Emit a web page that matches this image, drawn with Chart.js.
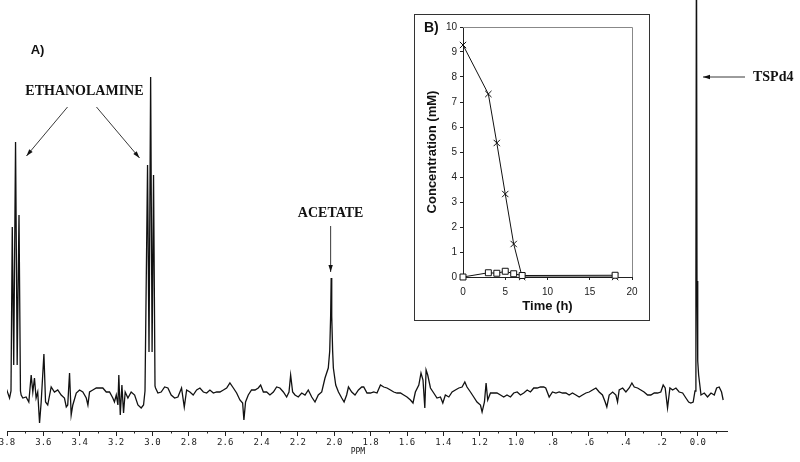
<!DOCTYPE html>
<html>
<head>
<meta charset="utf-8">
<script src="https://cdn.jsdelivr.net/npm/chart.js@4/dist/chart.umd.min.js"></script>
<style>
  html, body { margin: 0; padding: 0; background: #fff; }
  body { width: 800px; height: 462px; position: relative; overflow: hidden; }
  #spec { position: absolute; left: -23px; top: 0; }
  #inset { position: absolute; left: 414px; top: 14px; width: 234px; height: 305px; border: 1px solid #333; background: #fff; }
  #insetCanvas { position: absolute; left: 0; top: 0; }
  #tagB { position: absolute; left: 9px; top: 4px; font: bold 14px "Liberation Sans", Arial, sans-serif; color: #111; }
</style>
</head>
<body>
<canvas id="spec" width="830" height="462"></canvas>
<div id="inset">
  <canvas id="insetCanvas" width="234" height="305"></canvas>
  <div id="tagB">B)</div>
</div>
<script>
// ============================
// SPECTRUM (A) - chemical shift (ppm) / intensity (arbitrary units)
// ============================
const shifts = [
  3.805, 3.786, 3.778, 3.771, 3.763, 3.753, 3.744, 3.734, 3.726, 3.722, 3.713, 3.695, 3.680, 3.667, 3.658,
  3.649, 3.640, 3.631, 3.621, 3.612, 3.597, 3.588, 3.576, 3.557, 3.539, 3.521, 3.502, 3.484, 3.474, 3.466,
  3.456, 3.447, 3.438, 3.419, 3.401, 3.383, 3.364, 3.355, 3.346, 3.328, 3.309, 3.291, 3.273, 3.254, 3.236,
  3.218, 3.209, 3.199, 3.190, 3.185, 3.177, 3.168, 3.159, 3.150, 3.135, 3.117, 3.098, 3.080, 3.062, 3.049,
  3.041, 3.027, 3.019, 3.010, 3.002, 2.994, 2.986, 2.983, 2.970, 2.952, 2.933, 2.915, 2.897, 2.878, 2.860,
  2.840, 2.825, 2.812, 2.794, 2.776, 2.757, 2.739, 2.720, 2.702, 2.684, 2.665, 2.647, 2.629, 2.610, 2.592,
  2.574, 2.555, 2.537, 2.519, 2.504, 2.497, 2.488, 2.473, 2.455, 2.436, 2.418, 2.405, 2.390, 2.372, 2.354,
  2.335, 2.317, 2.299, 2.280, 2.262, 2.249, 2.240, 2.229, 2.216, 2.198, 2.179, 2.161, 2.143, 2.124, 2.106,
  2.088, 2.069, 2.051, 2.033, 2.025, 2.020, 2.017, 2.014, 2.009, 2.005, 1.992, 1.977, 1.959, 1.946, 1.932,
  1.922, 1.904, 1.886, 1.867, 1.849, 1.838, 1.820, 1.801, 1.783, 1.765, 1.746, 1.728, 1.710, 1.691, 1.673,
  1.655, 1.636, 1.618, 1.600, 1.581, 1.567, 1.554, 1.535, 1.523, 1.512, 1.502, 1.495, 1.486, 1.471, 1.453,
  1.435, 1.416, 1.403, 1.389, 1.370, 1.352, 1.334, 1.315, 1.297, 1.282, 1.270, 1.251, 1.233, 1.215, 1.196,
  1.187, 1.174, 1.165, 1.156, 1.141, 1.123, 1.105, 1.086, 1.068, 1.050, 1.031, 1.013, 0.994, 0.976, 0.958,
  0.939, 0.921, 0.903, 0.884, 0.866, 0.848, 0.837, 0.818, 0.800, 0.781, 0.763, 0.745, 0.726, 0.708, 0.690,
  0.671, 0.653, 0.635, 0.616, 0.598, 0.580, 0.561, 0.543, 0.525, 0.510, 0.501, 0.488, 0.469, 0.451, 0.442,
  0.433, 0.414, 0.396, 0.378, 0.363, 0.350, 0.332, 0.314, 0.296, 0.277, 0.259, 0.240, 0.222, 0.204, 0.191,
  0.180, 0.167, 0.154, 0.139, 0.121, 0.103, 0.084, 0.066, 0.051, 0.039, 0.026, 0.016, 0.011, 0.008, 0.005,
  0.001, -0.004, -0.017, -0.035, -0.053, -0.072, -0.090, -0.103, -0.117, -0.130, -0.139
];
const intensity = [
  43, 33, 40, 204, 66, 289, 66, 216, 40, 36, 33, 34, 29, 56, 39,
  53, 33, 39, 8, 29, 77, 29, 26, 44, 39, 41, 36, 33, 24, 26,
  58, 16, 26, 38, 41, 39, 33, 26, 39, 41, 43, 43, 43, 39, 39,
  33, 29, 36, 26, 56, 16, 46, 18, 39, 33, 39, 36, 26, 23, 26,
  40, 266, 79, 354, 79, 256, 45, 43, 38, 39, 44, 43, 36, 33, 34,
  43, 24, 41, 39, 36, 41, 43, 39, 38, 41, 38, 39, 39, 41, 43,
  48, 43, 38, 31, 28, 11, 29, 36, 41, 41, 43, 46, 39, 39, 36,
  39, 44, 43, 39, 34, 39, 56, 39, 36, 34, 38, 36, 41, 34, 29,
  36, 39, 53, 63, 80, 115, 153, 115, 80, 63, 46, 39, 33, 29, 36,
  44, 39, 36, 41, 44, 44, 38, 38, 39, 38, 46, 44, 43, 41, 39,
  38, 38, 36, 34, 31, 28, 39, 46, 58, 51, 23, 61, 56, 43, 38,
  33, 34, 28, 36, 34, 39, 41, 43, 44, 49, 44, 39, 34, 29, 26,
  19, 29, 48, 31, 38, 38, 38, 36, 34, 36, 34, 38, 39, 36, 38,
  41, 39, 43, 43, 44, 44, 43, 34, 39, 38, 39, 38, 38, 36, 38,
  36, 34, 36, 38, 39, 41, 43, 39, 36, 29, 24, 36, 39, 36, 29,
  41, 43, 39, 43, 48, 44, 43, 41, 39, 36, 36, 38, 38, 39, 46,
  43, 23, 43, 41, 43, 39, 38, 33, 29, 28, 29, 40, 150, 520, 150,
  70, 56, 36, 38, 34, 38, 36, 43, 44, 39, 31
];

// ============================
// INSET (B) - concentrations over time
// ============================
const times = [0, 3, 4, 5, 6, 7, 18];
const ethanolamineMM = [9.28, 7.32, 5.36, 3.32, 1.32, 0, 0];
const acetateMM = [0, 0.17, 0.15, 0.23, 0.13, 0.06, 0.07];

// labels / arrows on the spectrum, in ppm / intensity units
const serif = 'bold 14px "Liberation Serif", "Times New Roman", serif';
const notes = [
  { text: 'A)', ppm: 3.632, y: 381, font: 'bold 13px "Liberation Sans", Arial, sans-serif', align: 'center' },
  { text: 'ETHANOLAMINE', ppm: 3.374, y: 340, font: serif, align: 'center' },
  { text: 'ACETATE', ppm: 2.020, y: 218, font: serif, align: 'center' },
  { text: 'TSPd4', ppm: -0.303, y: 354, font: serif, align: 'left' },
  { text: 'PPM', ppm: 1.87, y: -21, font: '8px "DejaVu Sans Mono", monospace', align: 'center' }
];
const arrows = [
  { from: [3.467, 324], to: [3.693, 275] },
  { from: [3.308, 324], to: [3.071, 273] },
  { from: [2.020, 205], to: [2.020, 159] },
  { from: [-0.259, 354], to: [-0.028, 354] }
];

Chart.defaults.font.family = '"Liberation Sans", Arial, sans-serif';

function isMajor(v) {
  return Math.abs(Math.round(v * 10)) % 2 === 0;
}
function ppmLabel(v) {
  if (!isMajor(v) || v < -0.01) return '';
  if (Math.abs(v) < 0.001) return '0.0';
  if (v < 1) return '.' + Math.round(v * 10);
  return v.toFixed(1);
}

// short minor ticks under the axis
const minorTicks = {
  id: 'minorTicks',
  afterDraw(chart) {
    const sc = chart.scales.x, ctx = chart.ctx;
    ctx.save();
    ctx.strokeStyle = '#222';
    ctx.lineWidth = 1;
    sc.ticks.forEach(t => {
      if (isMajor(t.value)) return;
      const px = Math.round(sc.getPixelForValue(t.value)) + 0.5;
      ctx.beginPath();
      ctx.moveTo(px, sc.top);
      ctx.lineTo(px, sc.top + 2.5);
      ctx.stroke();
    });
    ctx.restore();
  }
};

// text labels + arrows
const labelsPlugin = {
  id: 'labelsPlugin',
  afterDraw(chart) {
    const xs = chart.scales.x, ys = chart.scales.y, ctx = chart.ctx;
    ctx.save();
    ctx.fillStyle = '#111';
    ctx.textBaseline = 'middle';
    notes.forEach(n => {
      ctx.font = n.font;
      ctx.textAlign = n.align;
      ctx.fillText(n.text, xs.getPixelForValue(n.ppm), ys.getPixelForValue(n.y));
    });
    ctx.strokeStyle = '#222';
    ctx.lineWidth = 0.9;
    arrows.forEach(a => {
      const x1 = xs.getPixelForValue(a.from[0]), y1 = ys.getPixelForValue(a.from[1]);
      const x2 = xs.getPixelForValue(a.to[0]), y2 = ys.getPixelForValue(a.to[1]);
      const ang = Math.atan2(y2 - y1, x2 - x1);
      ctx.beginPath();
      ctx.moveTo(x1, y1);
      ctx.lineTo(x2, y2);
      ctx.stroke();
      ctx.beginPath();
      ctx.moveTo(x2, y2);
      ctx.lineTo(x2 - 7 * Math.cos(ang) + 2.2 * Math.sin(ang), y2 - 7 * Math.sin(ang) - 2.2 * Math.cos(ang));
      ctx.lineTo(x2 - 7 * Math.cos(ang) - 2.2 * Math.sin(ang), y2 - 7 * Math.sin(ang) + 2.2 * Math.cos(ang));
      ctx.closePath();
      ctx.fill();
    });
    ctx.restore();
  }
};

new Chart(document.getElementById('spec'), {
  type: 'line',
  data: {
    datasets: [{
      data: shifts.map((s, i) => ({ x: s, y: intensity[i] })),
      borderColor: '#111',
      borderWidth: 1.3,
      pointRadius: 0,
      tension: 0,
      fill: false
    }]
  },
  options: {
    responsive: false,
    animation: false,
    devicePixelRatio: 1,
    layout: { padding: { left: 30, right: 80, top: 0, bottom: 0 } },
    plugins: { legend: { display: false }, tooltip: { enabled: false } },
    scales: {
      x: {
        type: 'linear',
        reverse: true,
        min: -0.16,
        max: 3.8,
        border: { display: true, color: '#222', width: 1 },
        grid: {
          drawOnChartArea: false,
          tickLength: 5,
          tickColor: c => (c.tick && isMajor(c.tick.value)) ? '#222' : 'rgba(0,0,0,0)'
        },
        ticks: {
          stepSize: 0.1,
          includeBounds: false,
          autoSkip: false,
          maxRotation: 0,
          padding: 1,
          color: '#222',
          font: { family: '"DejaVu Sans Mono", monospace', size: 9 },
          callback: v => ppmLabel(v)
        },
        afterFit: s => { s.height = 31; }
      },
      y: { display: false, min: 0, max: 431 }
    }
  },
  plugins: [minorTicks, labelsPlugin]
});

// grey top/right frame of the inset plot
const frame = {
  id: 'frame',
  beforeDatasetsDraw(chart) {
    const a = chart.chartArea, ctx = chart.ctx;
    ctx.save();
    ctx.strokeStyle = '#888';
    ctx.lineWidth = 1;
    ctx.beginPath();
    ctx.moveTo(a.left, a.top + 0.5);
    ctx.lineTo(a.right + 0.5, a.top + 0.5);
    ctx.lineTo(a.right + 0.5, a.bottom);
    ctx.stroke();
    ctx.restore();
  }
};

new Chart(document.getElementById('insetCanvas'), {
  type: 'line',
  data: {
    datasets: [
      {
        label: 'Acetate',
        data: times.map((t, i) => ({ x: t, y: acetateMM[i] })),
        borderColor: '#111', borderWidth: 1,
        pointStyle: 'rect', pointRadius: 4.2,
        pointBackgroundColor: '#fff', pointBorderColor: '#111', pointBorderWidth: 1,
        tension: 0, clip: false
      },
      {
        label: 'Ethanolamine',
        data: times.map((t, i) => ({ x: t, y: ethanolamineMM[i] })),
        borderColor: '#111', borderWidth: 1,
        pointStyle: 'crossRot', pointRadius: 4.5,
        pointBorderColor: '#111', pointBorderWidth: 1,
        tension: 0, clip: false
      }
    ]
  },
  options: {
    responsive: false,
    animation: false,
    devicePixelRatio: 1,
    layout: { padding: { left: 0, right: 17, top: 12, bottom: 0 } },
    plugins: { legend: { display: false }, tooltip: { enabled: false } },
    scales: {
      x: {
        type: 'linear', min: 0, max: 20,
        border: { color: '#222', width: 1 },
        grid: { drawOnChartArea: false, tickLength: 3, tickColor: '#222' },
        ticks: { stepSize: 5, padding: 6, color: '#222', font: { size: 10 } },
        title: { display: true, text: 'Time (h)', color: '#111', font: { size: 13, weight: 'bold' }, padding: { top: 0, bottom: 6 } },
        afterFit: s => { s.height = 43; }
      },
      y: {
        min: 0, max: 10,
        border: { color: '#222', width: 1 },
        grid: { drawOnChartArea: false, tickLength: 3, tickColor: '#222' },
        ticks: { stepSize: 1, padding: 3, color: '#222', font: { size: 10 } },
        title: { display: true, text: 'Concentration (mM)', color: '#111', font: { size: 13, weight: 'bold' }, padding: { top: 10, bottom: 0 } },
        afterFit: s => { s.width = 48; }
      }
    }
  },
  plugins: [frame]
});
</script>
</body>
</html>
